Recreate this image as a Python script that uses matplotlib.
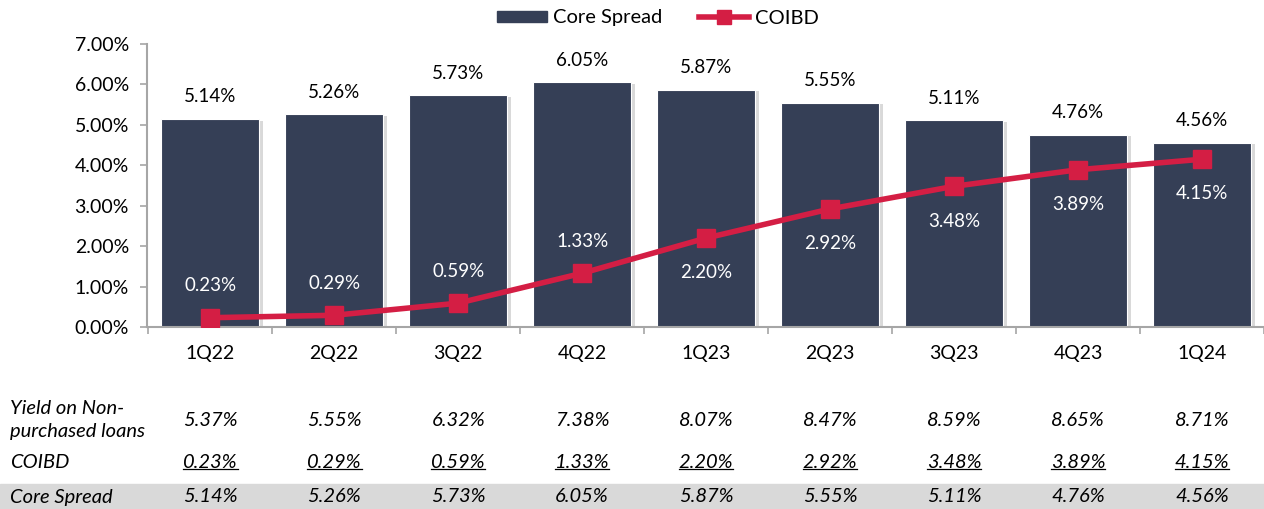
import matplotlib
matplotlib.use("Agg")
import matplotlib.pyplot as plt
import matplotlib.patheffects as pe
from matplotlib.lines import Line2D
from matplotlib.patches import Rectangle
import matplotlib.transforms as mtrans

quarters = ["1Q22", "2Q22", "3Q22", "4Q22", "1Q23", "2Q23", "3Q23", "4Q23", "1Q24"]
core_spread = [5.14, 5.26, 5.73, 6.05, 5.87, 5.55, 5.11, 4.76, 4.56]
coibd = [0.23, 0.29, 0.59, 1.33, 2.20, 2.92, 3.48, 3.89, 4.15]
yield_npl = [5.37, 5.55, 6.32, 7.38, 8.07, 8.47, 8.59, 8.65, 8.71]
yticks = [0, 1, 2, 3, 4, 5, 6, 7]

BAR = "#353F56"
RED = "#D41E44"
GRAY = "#A6A6A6"
FONT = "Lato"
plt.rcParams["font.family"] = [FONT, "DejaVu Sans"]

W, H = 1264, 509
fig = plt.figure(figsize=(W / 100, H / 100), dpi=100)
ax = fig.add_axes([147 / W, 1 - 327 / H, 1 - 147 / W, (327 - 44) / H])

x = list(range(len(quarters)))
bars = ax.bar(x, core_spread, width=0.79, color=BAR, edgecolor="white", linewidth=0.8,
              zorder=2, label="Core Spread")
for b in bars:
    b.set_path_effects([pe.SimplePatchShadow(offset=(3, -1), shadow_rgbFace="#000000", alpha=0.15), pe.Normal()])
ax.plot(x, coibd, color=RED, lw=4, marker="s", markersize=13.5, zorder=3, label="COIBD")

ax.set_xlim(-0.51, 8.36)
ax.set_ylim(0, 7)
ax.set_yticks(yticks)
ax.set_yticklabels([f"{v:.2f}%" for v in yticks], fontsize=14)
ax.set_xticks(x)
ax.set_xticklabels(quarters, fontsize=14)
ax.tick_params(axis="x", length=0, pad=13)
ax.set_xticks([i + 0.5 for i in range(-1, len(quarters))], minor=True)
ax.tick_params(axis="x", which="minor", length=5, color=GRAY, width=1.2)
ax.tick_params(axis="y", length=5, color=GRAY, width=1.2, pad=8)
for s in ["top", "right"]:
    ax.spines[s].set_visible(False)
for s in ["left", "bottom"]:
    ax.spines[s].set_color(GRAY)
    ax.spines[s].set_linewidth(1.5)

for i, v in enumerate(core_spread):
    ax.annotate(f"{v:.2f}%", (i, v), xytext=(0, 16), textcoords="offset points",
                ha="center", va="center", fontsize=13.5, color="black")
for i, v in enumerate(coibd):
    off = 23 if i < 4 else -25
    ax.annotate(f"{v:.2f}%", (i, v), xytext=(0, off), textcoords="offset points",
                ha="center", va="center", fontsize=13.5, color="white")

leg = fig.legend(handles=[Rectangle((0, 0), 1, 1, color=BAR), Line2D([], [], color=RED, lw=4, marker="s", markersize=10)],
                 labels=["Core Spread", "COIBD"], loc="center", bbox_to_anchor=(658 / W, 1 - 18 / H),
                 ncol=2, frameon=False, fontsize=14.5, handlelength=2.45, handleheight=0.45,
                 columnspacing=1.85, handletextpad=0.3)

# table
fig.patches.append(Rectangle((0, 0), 1, 25 / H, transform=fig.transFigure, color="#D9D9D9", zorder=0))
tr = mtrans.blended_transform_factory(ax.transData, fig.transFigure)
TS = 14.5
rows = [(yield_npl, 1 - 421 / H), (coibd, 1 - 462 / H), (core_spread, 1 - 497 / H)]
fig.text(10 / W, 1 - 408 / H, "Yield on Non-", style="italic", fontsize=TS, va="center")
fig.text(10 / W, 1 - 432 / H, "purchased loans", style="italic", fontsize=TS, va="center")
fig.text(10 / W, 1 - 462 / H, "COIBD", style="italic", fontsize=TS, va="center")
fig.text(10 / W, 1 - 497 / H, "Core Spread", style="italic", fontsize=TS, va="center")
under = []
for r, (vals, yy) in enumerate(rows):
    for i, v in enumerate(vals):
        t = fig.text(i, yy, f"{v:.2f}%", transform=tr, style="italic", fontsize=TS,
                     ha="center", va="center")
        if r == 1:
            under.append(t)

fig.canvas.draw()
rend = fig.canvas.get_renderer()
for t in under:
    bb = t.get_window_extent(rend)
    yline = bb.y0 + 2
    fig.add_artist(Line2D([bb.x0 / W, bb.x1 / W], [yline / H, yline / H], transform=fig.transFigure,
                          color="black", lw=0.9))

fig.savefig("out.png", dpi=100)
